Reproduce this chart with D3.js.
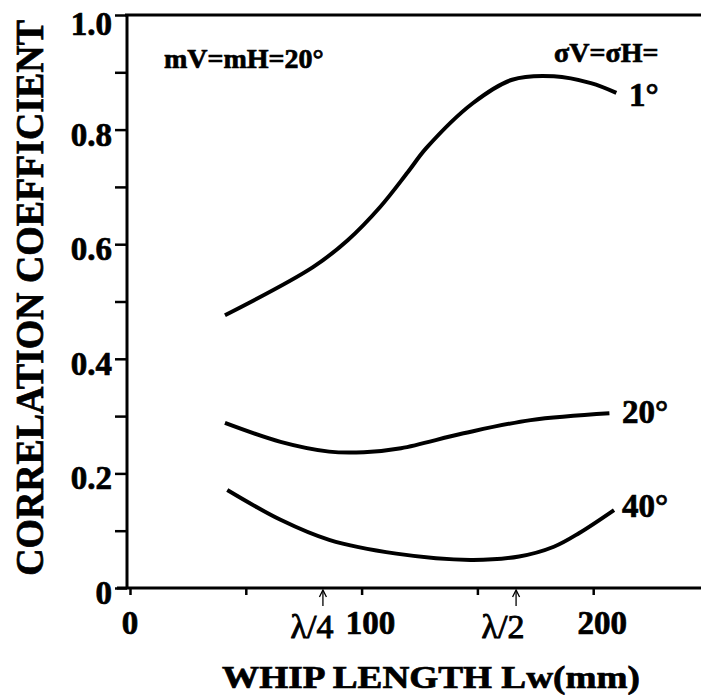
<!DOCTYPE html>
<html>
  <head>
    <meta charset="utf-8">
    <style>
      body { margin: 0; background: #fff; }
    </style>
    <script src="https://d3js.org/d3.v7.min.js"></script>
  </head>
  <body>
    <svg></svg>
    <script>
    // whip length in mm
    var lengths1 = [41, 79, 94, 108, 120, 128, 148, 165, 183, 199, 210];
    var corr1 = [0.476, 0.560, 0.607, 0.665, 0.726, 0.768, 0.846, 0.887, 0.893, 0.881, 0.864];

    var lengths20 = [41, 65, 86, 101, 117, 144, 173, 207];
    var corr20 = [0.288, 0.255, 0.238, 0.237, 0.244, 0.270, 0.293, 0.305];

    var lengths40 = [42, 65, 86, 115, 147, 168, 183, 194, 209];
    var corr40 = [0.171, 0.119, 0.084, 0.060, 0.049, 0.055, 0.072, 0.096, 0.136];

    var curveLabels = ["1°", "20°", "40°"];
    var yTicks = [0, 0.2, 0.4, 0.6, 0.8, 1.0];
    var yMinor = [0.1, 0.3, 0.5, 0.7, 0.9];
    var xTicks = [0, 50, 100, 150, 200, 250];
    var xLabels = [0, 100, 200];
    var lambdaMarks = [83.3, 166.7];
    var lambdaNames = ["λ/4", "λ/2"];

    var serif = "'Liberation Serif', 'Times New Roman', Times, 'DejaVu Serif', serif";

    var width = 701, height = 695;
    var svg = d3.select("svg").attr("width", width).attr("height", height);

    var x = d3.scaleLinear().domain([0, 250]).range([130, 709]);
    var y = d3.scaleLinear().domain([0, 1]).range([588, 15]);

    // bold serif text, a little thickened like the scanned print
    function label(sel) {
      return sel.attr("font-family", serif).attr("font-weight", "bold")
          .attr("fill", "#000").attr("stroke", "#000").attr("stroke-width", 0.7);
    }

    // axes
    var yAxis = svg.append("g")
        .attr("transform", "translate(127,0)")
        .call(d3.axisLeft(y).tickValues(yTicks.concat(yMinor)).tickSize(12).tickFormat(""));
    var xAxis = svg.append("g")
        .attr("transform", "translate(0,588)")
        .call(d3.axisBottom(x).tickValues(xTicks).tickSize(7).tickFormat(""));
    [yAxis, xAxis].forEach(function(a) {
      a.select(".domain").attr("stroke", "#000").attr("stroke-width", 3);
      a.selectAll(".tick line").attr("stroke", "#000").attr("stroke-width", 2.5);
    });
    xAxis.select(".domain").attr("d", "M117,0H701");
    yAxis.select(".domain").attr("d", "M0,588V15");

    // top border
    svg.append("line")
        .attr("x1", 125).attr("x2", 701)
        .attr("y1", y(1)).attr("y2", y(1))
        .attr("stroke", "#000").attr("stroke-width", 3);

    svg.selectAll(".ylab").data(yTicks).enter().append("text")
        .attr("class", "ylab")
        .call(label)
        .attr("x", 112).attr("y", function(d) { return y(d) + (d === 1 ? 20 : 16); })
        .attr("text-anchor", "end")
        .attr("font-size", 33)
        .text(function(d) { return d === 0 ? "0" : d.toFixed(1); });

    svg.selectAll(".xlab").data(xLabels).enter().append("text")
        .attr("class", "xlab")
        .call(label)
        .attr("x", function(d) { return x(d) + (d === 0 ? 0 : 9); })
        .attr("y", 634)
        .attr("text-anchor", "middle")
        .attr("font-size", 33)
        .text(function(d) { return d; });

    // lambda markers with small arrows
    lambdaMarks.forEach(function(m, i) {
      var px = x(m);
      svg.append("line")
          .attr("x1", px).attr("x2", px).attr("y1", 591).attr("y2", 606)
          .attr("stroke", "#000").attr("stroke-width", 1.3);
      svg.append("path")
          .attr("d", "M" + (px - 3.5) + ",597 L" + px + ",590 L" + (px + 3.5) + ",597")
          .attr("fill", "none").attr("stroke", "#000").attr("stroke-width", 1.3);
      svg.append("text")
          .call(label)
          .attr("font-weight", "normal")
          .attr("stroke-width", 0.9)
          .attr("x", px - 13 + (i === 0 ? 2 : 0)).attr("y", 638)
          .attr("text-anchor", "middle")
          .attr("font-size", 34)
          .text(lambdaNames[i]);
    });

    // axis titles, squeezed to the printed length
    function fitLength(sel, len) {
      var w = sel.node().getComputedTextLength();
      return w > 0 ? len / w : 1;
    }
    var xTitle = svg.append("text")
        .call(label)
        .attr("text-anchor", "middle")
        .attr("font-size", 31)
        .text("WHIP LENGTH Lw(mm)");
    xTitle.attr("transform", "translate(431,688) scale(" + fitLength(xTitle, 418) + ",1)");

    var yTitle = svg.append("text")
        .call(label)
        .attr("text-anchor", "middle")
        .attr("font-size", 40)
        .text("CORRELATION COEFFICIENT");
    yTitle.attr("transform", "translate(43,298) rotate(-90) scale(" + fitLength(yTitle, 556) + ",1)");

    // curves
    var line = d3.line()
        .x(function(d) { return x(d[0]); })
        .y(function(d) { return y(d[1]); })
        .curve(d3.curveCatmullRom.alpha(0.5));

    var series = [d3.zip(lengths1, corr1), d3.zip(lengths20, corr20), d3.zip(lengths40, corr40)];
    svg.selectAll(".curve").data(series).enter().append("path")
        .attr("class", "curve")
        .attr("d", line)
        .attr("fill", "none")
        .attr("stroke", "#000")
        .attr("stroke-width", 4);

    // curve labels
    var labelPos = [[629, 106], [622, 423], [622, 517]];
    curveLabels.forEach(function(t, i) {
      svg.append("text")
          .call(label)
          .attr("x", labelPos[i][0]).attr("y", labelPos[i][1])
          .attr("font-size", 33)
          .text(t);
    });

    svg.append("text")
        .call(label)
        .attr("x", 164).attr("y", 68)
        .attr("font-size", 28)
        .text("mV=mH=20°");
    svg.append("text")
        .call(label)
        .attr("x", 554).attr("y", 62)
        .attr("font-size", 28)
        .text("σV=σH=");
    </script>
  </body>
</html>
